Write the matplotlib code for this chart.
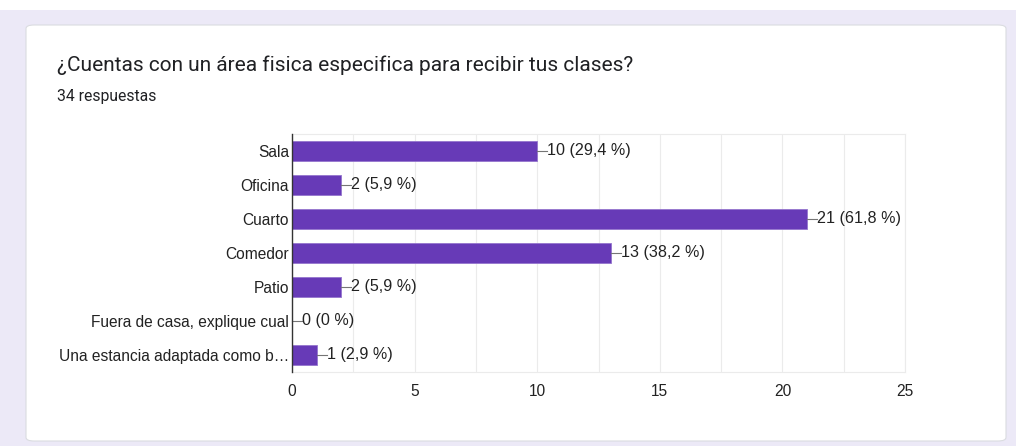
import matplotlib
matplotlib.use("Agg")
import matplotlib.pyplot as plt
from matplotlib.patches import FancyBboxPatch, Rectangle

plt.rcParams["font.family"] = ["Liberation Sans", "DejaVu Sans"]

# data
categorias = ["Sala", "Oficina", "Cuarto", "Comedor", "Patio",
              "Fuera de casa, explique cual", "Una estancia adaptada como b\u2026"]
respuestas = [10, 2, 21, 13, 2, 0, 1]
porcentajes = ["29,4", "5,9", "61,8", "38,2", "5,9", "0", "2,9"]
xticks = [0, 5, 10, 15, 20, 25]
total = 34

W, H = 1016, 446
fig = plt.figure(figsize=(W / 100, H / 100), dpi=100)
fig.patch.set_facecolor("white")

# lavender background + white card
fig.patches.append(Rectangle((0, 0), 1, 1 - 10 / H, transform=fig.transFigure,
                             facecolor="#ece9f7", edgecolor="none", zorder=-3))
fig.patches.append(FancyBboxPatch((26 / W, 5 / H), (1006 - 26) / W, (421 - 5) / H,
                                  boxstyle="round,pad=0,rounding_size=0.008",
                                  transform=fig.transFigure, facecolor="white",
                                  edgecolor="#dadce0", linewidth=0.8, zorder=-2))

fig.text(57 / W, 1 - 65 / H, "\u00bfCuentas con un \u00e1rea fisica especifica para recibir tus clases?",
         fontsize=15, family="Roboto", color="#202124", va="center", ha="left")
fig.text(57 / W, 1 - 97 / H, f"{total} respuestas", fontsize=11.3, family="Roboto",
         color="#202124", va="center", ha="left")

left, right = 292, 905
top, bottom = 134, 372
ax = fig.add_axes([left / W, 1 - bottom / H, (right - left) / W, (bottom - top) / H])

y = list(range(len(categorias)))
ax.barh(y, respuestas, height=0.6, color="#673ab7", edgecolor="#9575cd",
        linewidth=0.6, zorder=3)

for yi, v, p in zip(y, respuestas, porcentajes):
    ax.plot([v, v + 0.42], [yi, yi], color="#757575", linewidth=0.8, zorder=3,
            clip_on=False)
    ax.text(v + 0.42, yi, f"{v} ({p} %)", va="center", ha="left", fontsize=11.6,
            color="#222222")

ax.set_xlim(0, 25)
ax.set_ylim(len(categorias) - 0.5, -0.5)
ax.set_xticks(xticks)
ax.set_xticks([2.5, 7.5, 12.5, 17.5, 22.5], minor=True)
ax.set_yticks(y)
ax.set_yticklabels(categorias)
ax.grid(axis="x", which="both", color="#ebebeb", linewidth=0.8, zorder=0)
ax.tick_params(axis="both", which="both", length=0, labelsize=11.2, colors="#222222")
ax.tick_params(axis="y", pad=2)
ax.tick_params(axis="x", pad=9)

for s in ["top", "right", "bottom"]:
    ax.spines[s].set_color("#ebebeb")
    ax.spines[s].set_linewidth(0.8)
ax.spines["left"].set_color("#333333")
ax.spines["left"].set_linewidth(1.0)
ax.spines["left"].set_zorder(4)

fig.savefig("out.png", dpi=100)
